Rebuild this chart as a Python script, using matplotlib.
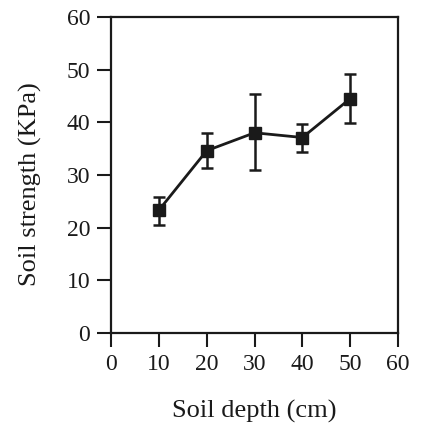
import matplotlib
matplotlib.use("Agg")
import matplotlib.pyplot as plt

depth = [10, 20, 30, 40, 50]
strength = [23.3, 34.6, 38.0, 37.1, 44.5]
err_low = [2.8, 3.3, 7.1, 2.7, 4.6]
err_high = [2.5, 3.4, 7.3, 2.6, 4.6]
xticks = [0, 10, 20, 30, 40, 50, 60]
yticks = [0, 10, 20, 30, 40, 50, 60]

plt.rcParams['font.family'] = ['Liberation Serif', 'DejaVu Serif']

fig = plt.figure(figsize=(4.37, 4.34), dpi=100)
ax = fig.add_axes([0.254, 0.233, 0.657, 0.728])
ax.errorbar(depth, strength, yerr=[err_low, err_high], color='#1a1a1a',
            marker='s', markersize=9, linewidth=2.0, elinewidth=1.8,
            capsize=4, capthick=1.8)
ax.set_xlim(0, 60)
ax.set_ylim(0, 60)
ax.set_xticks(xticks)
ax.set_yticks(yticks)
ax.tick_params(direction='out', length=10, width=1.5, labelsize=17, colors='#1a1a1a', pad=5)
for s in ax.spines.values():
    s.set_linewidth(1.6)
    s.set_color('#1a1a1a')
ax.set_xlabel('Soil depth (cm)', fontsize=19, color='#1a1a1a', labelpad=18)
ax.set_ylabel('Soil strength (KPa)', fontsize=19, color='#1a1a1a', va='center')
ax.yaxis.set_label_coords(-0.282, 0.47)
fig.savefig('out.png', dpi=100)
